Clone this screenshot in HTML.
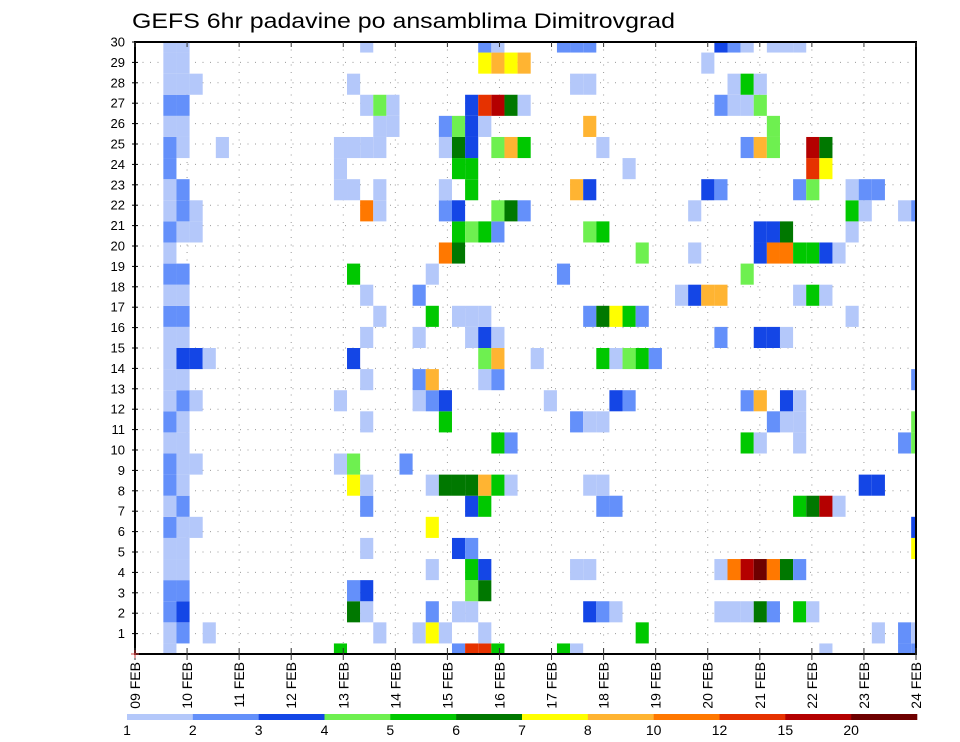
<!DOCTYPE html>
<html>
<head>
<meta charset="utf-8">
<style>
  html,body{margin:0;padding:0;background:#fff;}
  svg{display:block;font-family:"Liberation Sans",sans-serif;}
</style>
</head>
<body>
<svg id="chart" width="960" height="742" viewBox="0 0 960 742" xmlns="http://www.w3.org/2000/svg">
  <text x="132" y="28" font-size="21" textLength="543" lengthAdjust="spacingAndGlyphs" fill="#000">GEFS 6hr padavine po ansamblima Dimitrovgrad</text>
  <g id="grid"></g>
  <g id="cells"></g>
  <g id="axes"></g>
  <g id="legend"></g>
</svg>
<script>
// ---- data ----
const dayLabels = ["09 FEB","10 FEB","11 FEB","12 FEB","13 FEB","14 FEB","15 FEB","16 FEB","17 FEB","18 FEB","19 FEB","20 FEB","21 FEB","22 FEB","23 FEB","24 FEB"];
const memberTicks = [1,2,3,4,5,6,7,8,9,10,11,12,13,14,15,16,17,18,19,20,21,22,23,24,25,26,27,28,29,30];
const levelBounds = [1,2,3,4,5,6,7,8,10,12,15,20];
const levelLabels = ["1","2","3","4","5","6","7","8","10","12","15","20"];
const levelColors = ["#b4c8fa","#6490fa","#1446e6","#6ef050","#00c800","#007800","#ffff00","#ffb432","#ff7800","#e63200","#b40000","#6e0000"];
// precipitation per member row (row 0 = bottom), pairs: [6h step index, mm]
const precipByRow = [
 [[2,1.5],[15,5.5],[24,2.5],[25,13.5],[26,13.5],[27,5.5],[32,5.5],[33,1.5],[52,1.5],[58,2.5],[59,2.5]],
 [[2,1.5],[3,2.5],[5,1.5],[18,1.5],[21,1.5],[22,7.5],[23,1.5],[26,1.5],[38,5.5],[56,1.5],[58,2.5],[59,1.5]],
 [[2,2.5],[3,3.5],[16,6.5],[17,1.5],[22,2.5],[24,1.5],[25,1.5],[34,3.5],[35,2.5],[36,1.5],[44,1.5],[45,1.5],[46,1.5],[47,6.5],[48,2.5],[50,5.5],[51,1.5]],
 [[2,2.5],[3,2.5],[16,2.5],[17,3.5],[25,4.5],[26,6.5]],
 [[2,1.5],[3,1.5],[22,1.5],[25,5.5],[26,3.5],[33,1.5],[34,1.5],[44,1.5],[45,11],[46,17.5],[47,22],[48,11],[49,6.5],[50,2.5]],
 [[2,1.5],[3,1.5],[17,1.5],[24,3.5],[25,2.5],[59,7.5]],
 [[2,2.5],[3,1.5],[4,1.5],[22,7.5],[59,3.5]],
 [[2,1.5],[3,2.5],[17,2.5],[25,3.5],[26,5.5],[35,2.5],[36,2.5],[50,5.5],[51,6.5],[52,17.5],[53,1.5]],
 [[2,2.5],[3,1.5],[16,7.5],[17,1.5],[22,1.5],[23,6.5],[24,6.5],[25,6.5],[26,9],[27,5.5],[28,1.5],[34,1.5],[35,1.5],[55,3.5],[56,3.5]],
 [[2,2.5],[3,1.5],[4,1.5],[15,1.5],[16,4.5],[20,2.5]],
 [[2,1.5],[3,1.5],[27,5.5],[28,2.5],[46,5.5],[47,1.5],[50,1.5],[58,2.5],[59,4.5]],
 [[2,2.5],[3,1.5],[17,1.5],[23,5.5],[33,2.5],[34,1.5],[35,1.5],[48,2.5],[49,1.5],[50,1.5],[59,4.5]],
 [[2,1.5],[3,2.5],[4,1.5],[15,1.5],[21,1.5],[22,2.5],[23,3.5],[31,1.5],[36,3.5],[37,2.5],[46,2.5],[47,9],[49,3.5],[50,1.5]],
 [[2,1.5],[3,1.5],[17,1.5],[21,2.5],[22,9],[26,1.5],[27,2.5],[59,2.5]],
 [[2,1.5],[3,3.5],[4,3.5],[5,1.5],[16,3.5],[26,4.5],[27,9],[30,1.5],[35,5.5],[36,1.5],[37,4.5],[38,5.5],[39,2.5]],
 [[2,1.5],[3,1.5],[17,1.5],[21,1.5],[25,1.5],[26,3.5],[27,1.5],[44,2.5],[47,3.5],[48,3.5],[49,1.5]],
 [[2,2.5],[3,2.5],[18,1.5],[22,5.5],[24,1.5],[25,1.5],[26,1.5],[34,2.5],[35,6.5],[36,7.5],[37,5.5],[38,2.5],[54,1.5]],
 [[2,1.5],[3,1.5],[17,1.5],[21,2.5],[41,1.5],[42,3.5],[43,9],[44,9],[50,1.5],[51,5.5],[52,1.5]],
 [[2,2.5],[3,2.5],[16,5.5],[22,1.5],[32,2.5],[46,4.5]],
 [[2,1.5],[23,11],[24,6.5],[38,4.5],[42,1.5],[47,3.5],[48,11],[49,11],[50,5.5],[51,5.5],[52,3.5],[53,1.5]],
 [[2,2.5],[3,1.5],[4,1.5],[24,5.5],[25,4.5],[26,5.5],[27,2.5],[34,4.5],[35,5.5],[47,3.5],[48,3.5],[49,6.5],[54,1.5]],
 [[2,1.5],[3,2.5],[4,1.5],[17,11],[18,1.5],[23,2.5],[24,3.5],[27,4.5],[28,6.5],[29,2.5],[42,1.5],[54,5.5],[55,1.5],[58,1.5],[59,2.5]],
 [[2,1.5],[3,2.5],[15,1.5],[16,1.5],[18,1.5],[23,1.5],[25,5.5],[33,9],[34,3.5],[43,3.5],[44,2.5],[50,2.5],[51,4.5],[54,1.5],[55,2.5],[56,2.5]],
 [[2,2.5],[15,1.5],[24,5.5],[25,5.5],[37,1.5],[51,13.5],[52,7.5]],
 [[2,2.5],[3,1.5],[6,1.5],[15,1.5],[16,1.5],[17,1.5],[18,1.5],[23,1.5],[24,6.5],[25,3.5],[27,4.5],[28,9],[29,5.5],[35,1.5],[46,2.5],[47,9],[48,4.5],[51,17.5],[52,6.5]],
 [[2,1.5],[3,1.5],[18,1.5],[19,1.5],[23,2.5],[24,4.5],[25,3.5],[26,1.5],[34,9],[48,4.5]],
 [[2,2.5],[3,2.5],[17,1.5],[18,4.5],[19,1.5],[25,3.5],[26,13.5],[27,17.5],[28,6.5],[29,1.5],[44,2.5],[45,1.5],[46,1.5],[47,4.5]],
 [[2,1.5],[3,1.5],[4,1.5],[16,1.5],[33,1.5],[34,1.5],[45,1.5],[46,5.5],[47,1.5]],
 [[2,1.5],[3,1.5],[26,7.5],[27,9],[28,7.5],[29,9],[43,1.5]],
 [[2,1.5],[3,1.5],[17,1.5],[26,2.5],[27,1.5],[32,2.5],[33,2.5],[34,2.5],[44,3.5],[45,2.5],[46,1.5],[48,1.5],[49,1.5],[50,1.5]]
];

// ---- layout / scales ----
const NS = "http://www.w3.org/2000/svg";
const plot = {x0:135, x1:916, y0:42, y1:654};
const nSteps = 60, nRows = 30;
const stepW = 13.12, stepX0 = 137.1;
const rowH = (plot.y1 - plot.y0) / (nRows - 1);
function xStep(c){ return stepX0 + stepW * c; }
function yRowCenter(k){ return plot.y1 - rowH * k; }
function xDay(d){ return plot.x0 + d * (plot.x1 - plot.x0) / (dayLabels.length - 1); }
function yMember(m){ return plot.y1 - m * (plot.y1 - plot.y0) / 30; }
function colorFor(v){
  let idx = 0;
  for (let i = 0; i < levelBounds.length; i++) if (v >= levelBounds[i]) idx = i;
  return levelColors[idx];
}
function mk(tag, attrs, parent){
  const e = document.createElementNS(NS, tag);
  for (const k in attrs) e.setAttribute(k, attrs[k]);
  parent.appendChild(e);
  return e;
}

const gGrid = document.getElementById('grid');
const gCells = document.getElementById('cells');
const gAxes = document.getElementById('axes');
const gLeg = document.getElementById('legend');

// gridlines
for (let d = 1; d < dayLabels.length - 1; d++) {
  const l = mk('line', {x1:xDay(d), x2:xDay(d), y1:plot.y0, y2:plot.y1, stroke:'#999', 'stroke-width':1, 'stroke-dasharray':'1 6.5'}, gGrid);
  
  
}
memberTicks.forEach(m => {
  if (m >= 30) return;
  const l = mk('line', {x1:plot.x0, x2:plot.x1, y1:yMember(m), y2:yMember(m), stroke:'#999', 'stroke-width':1, 'stroke-dasharray':'1 6.5'}, gGrid);
  
  
});

// cells
precipByRow.forEach((row, k) => {
  row.forEach(([c, v]) => {
    let x0 = Math.max(xStep(c), plot.x0), x1 = Math.min(xStep(c + 1), plot.x1);
    let yc = yRowCenter(k);
    let y0 = Math.max(yc - rowH / 2, plot.y0), y1 = Math.min(yc + rowH / 2, plot.y1);
    if (x1 <= x0 || y1 <= y0) return;
    const r = mk('rect', {x:x0.toFixed(2), y:y0.toFixed(2), width:(x1 - x0).toFixed(2), height:(y1 - y0).toFixed(2), fill:colorFor(v)}, gCells);
    
    
  });
});

// frame
const frame = mk('rect', {x:plot.x0, y:plot.y0, width:plot.x1 - plot.x0, height:plot.y1 - plot.y0, fill:'none', stroke:'#000', 'stroke-width':2}, gAxes);



// y ticks & labels
memberTicks.forEach(m => {
  const y = yMember(m);
  const t = mk('line', {x1:plot.x0 - 3, x2:plot.x0 + 3, y1:y, y2:y, stroke:'#000', 'stroke-width':1}, gAxes);
  
  
  const lb = mk('text', {x:125, y:y + 4.5, 'text-anchor':'end', 'font-size':13, fill:'#000'}, gAxes);
  lb.textContent = String(m);
  
  
});

// x ticks & labels
dayLabels.forEach((lab, d) => {
  const x = xDay(d);
  const t = mk('line', {x1:x, x2:x, y1:plot.y1 - 6, y2:plot.y1 + 6, stroke:'#333', 'stroke-width':1}, gAxes);
  
  
  const t2 = mk('line', {x1:x, x2:x, y1:plot.y0, y2:plot.y0 + 5, stroke:'#333', 'stroke-width':1}, gAxes);
  
  
  const lb = mk('text', {x:0, y:0, 'text-anchor':'end', 'font-size':14, fill:'#000', transform:'translate(' + (x + 5) + ',662) rotate(-90)'}, gAxes);
  lb.textContent = lab;
  
  
});
const origin = mk('path', {d:'M131 654 H139 M135 650 V658', stroke:'#d04040', 'stroke-width':1}, gAxes);



// colorbar
const lx0 = 127, lx1 = 917, segW = (lx1 - lx0) / levelColors.length;
levelColors.forEach((col, i) => {
  const r = mk('rect', {x:(lx0 + i * segW).toFixed(2), y:714, width:(segW + 0.3).toFixed(2), height:6, fill:col}, gLeg);
  
  
  const t = mk('text', {x:(lx0 + i * segW).toFixed(2), y:735, 'text-anchor':'middle', 'font-size':14, fill:'#000'}, gLeg);
  t.textContent = levelLabels[i];
  
  
});
</script>
</body>
</html>
